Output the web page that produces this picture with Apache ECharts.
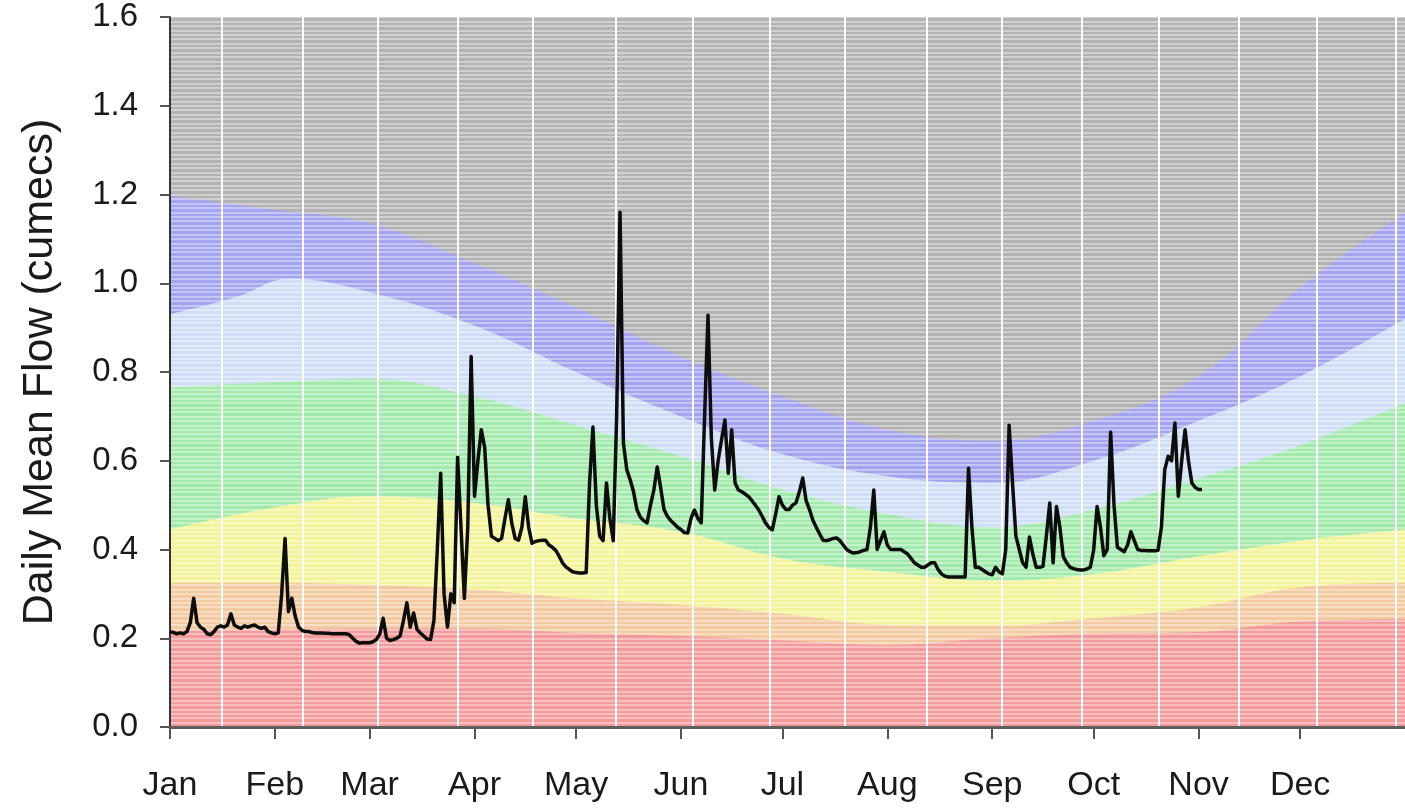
<!DOCTYPE html>
<html>
<head>
<meta charset="utf-8">
<script src="https://cdn.jsdelivr.net/npm/echarts@6/dist/echarts.min.js"></script>
<style>
html,body{margin:0;padding:0;background:#fff;}
#chart{width:1405px;height:811px;}
</style>
</head>
<body>
<div id="chart"></div>
<script>
// ---- Data ----
const monthStarts = [0, 31, 59, 90, 120, 151, 181, 212, 243, 273, 304, 334];
const monthLabels = ['Jan','Feb','Mar','Apr','May','Jun','Jul','Aug','Sep','Oct','Nov','Dec'];
const yTicks = [0, 0.2, 0.4, 0.6, 0.8, 1.0, 1.2, 1.4, 1.6];

// band boundary curves (upper edge of each band), by day of year
const bandDays = [0, 31, 59, 90, 120, 151, 181, 212, 243, 273, 304, 334, 365];
const blueTop   = [1.197, 1.165, 1.135, 1.045, 0.945, 0.835, 0.745, 0.67, 0.645, 0.69, 0.79, 0.99, 1.16];
const lightBlueDays = [0, 20, 35, 59, 90, 120, 151, 181, 212, 243, 273, 304, 334, 365];
const lightBlueTop  = [0.93, 0.97, 1.01, 0.98, 0.905, 0.80, 0.70, 0.615, 0.565, 0.55, 0.60, 0.69, 0.79, 0.92];
const greenTop  = [0.765, 0.777, 0.785, 0.745, 0.68, 0.61, 0.535, 0.48, 0.45, 0.49, 0.56, 0.635, 0.73];
const yellowTop = [0.445, 0.495, 0.52, 0.505, 0.47, 0.44, 0.38, 0.35, 0.33, 0.345, 0.385, 0.42, 0.445];
const orangeTop = [0.325, 0.325, 0.32, 0.31, 0.29, 0.275, 0.255, 0.23, 0.228, 0.245, 0.27, 0.315, 0.325];
const redTop    = [0.218, 0.22, 0.222, 0.222, 0.212, 0.205, 0.195, 0.185, 0.2, 0.21, 0.214, 0.238, 0.243];

// white vertical guide lines (day of year)
const guideDays = [15.4, 39.3, 61.5, 85.1, 107.3, 131.8, 154.6, 177.4, 199.5, 223.8, 245.9, 269.6, 292.1, 316, 338.8, 362.4];

// daily mean flow, day 0 = 1 Jan
const flow = [
0.215,0.213,0.21,0.212,0.21,0.215,0.235,0.29,0.235,0.225,
0.22,0.21,0.208,0.215,0.225,0.228,0.225,0.23,0.255,0.23,
0.225,0.222,0.228,0.225,0.228,0.23,0.225,0.222,0.225,0.215,
0.212,0.21,0.212,0.3,0.425,0.26,0.29,0.25,0.225,0.218,
0.215,0.215,0.213,0.212,0.212,0.212,0.211,0.211,0.21,0.21,
0.21,0.21,0.21,0.208,0.2,0.193,0.189,0.19,0.19,0.19,
0.192,0.197,0.21,0.245,0.2,0.195,0.197,0.2,0.205,0.24,
0.28,0.225,0.257,0.22,0.212,0.205,0.198,0.197,0.24,0.4,
0.572,0.3,0.225,0.3,0.28,0.608,0.45,0.29,0.45,0.835,
0.52,0.6,0.67,0.63,0.5,0.43,0.425,0.42,0.425,0.47,
0.512,0.46,0.425,0.421,0.45,0.519,0.45,0.414,0.418,0.42,
0.421,0.421,0.41,0.405,0.398,0.385,0.37,0.361,0.355,0.35,
0.348,0.347,0.347,0.348,0.55,0.676,0.5,0.43,0.42,0.55,
0.47,0.42,0.7,1.16,0.64,0.58,0.557,0.53,0.49,0.473,
0.465,0.46,0.5,0.534,0.586,0.54,0.49,0.475,0.465,0.458,
0.45,0.445,0.438,0.437,0.47,0.489,0.47,0.46,0.7,0.928,
0.65,0.534,0.6,0.647,0.692,0.572,0.67,0.55,0.534,0.53,
0.525,0.519,0.51,0.5,0.489,0.475,0.46,0.45,0.444,0.48,
0.519,0.5,0.49,0.49,0.5,0.505,0.53,0.561,0.51,0.49,
0.466,0.45,0.435,0.421,0.42,0.422,0.425,0.426,0.42,0.41,
0.4,0.395,0.392,0.393,0.395,0.398,0.4,0.45,0.534,0.4,
0.42,0.44,0.41,0.4,0.4,0.4,0.4,0.395,0.39,0.38,
0.37,0.365,0.36,0.36,0.365,0.37,0.37,0.355,0.345,0.34,
0.338,0.338,0.338,0.338,0.338,0.338,0.583,0.45,0.36,0.36,
0.355,0.35,0.345,0.343,0.36,0.35,0.345,0.4,0.68,0.55,
0.43,0.4,0.37,0.36,0.428,0.39,0.36,0.36,0.362,0.43,
0.505,0.37,0.497,0.45,0.384,0.37,0.36,0.357,0.355,0.354,
0.354,0.356,0.36,0.4,0.497,0.45,0.386,0.4,0.665,0.5,
0.405,0.4,0.395,0.41,0.44,0.42,0.4,0.398,0.398,0.397,
0.397,0.397,0.398,0.45,0.58,0.61,0.6,0.685,0.52,0.6,
0.67,0.6,0.55,0.54,0.535,0.535
];

// ---- Build ----
const FONT = '"Liberation Sans", Arial, sans-serif';
function band(name, days, tops, color, extra) {
  return Object.assign({
    name: name, type: 'line', xAxisIndex: 0, yAxisIndex: 0,
    data: days.map((d, i) => [d, tops[i]]),
    smooth: 0.4, symbol: 'none', silent: true,
    lineStyle: { width: 0 },
    areaStyle: { color: color, opacity: 1, origin: 'start' },
    z: 2
  }, extra || {});
}

const series = [
  band('blue', bandDays, blueTop, '#a3a3ef'),
  band('lightblue', lightBlueDays, lightBlueTop, '#cfdef4'),
  band('green', bandDays, greenTop, '#a2eaab'),
  band('yellow', bandDays, yellowTop, '#f3f39a'),
  band('orange', bandDays, orangeTop, '#f3c9a0'),
  band('red', bandDays, redTop, '#f39a9a', {
    markLine: {
      silent: true, symbol: 'none', z: 5,
      label: { show: false },
      lineStyle: { color: '#ffffff', width: 2, type: 'solid', opacity: 0.95 },
      data: guideDays.map(d => ({ xAxis: d }))
    }
  }),
  {
    name: 'flow', type: 'line', xAxisIndex: 0, yAxisIndex: 0,
    data: flow.map((v, i) => [i, v]),
    symbol: 'none', smooth: false,
    lineStyle: { color: '#0d0d0d', width: 3.5, join: 'round' },
    z: 10
  }
];

const chart = echarts.init(document.getElementById('chart'), null, { renderer: 'canvas' });
chart.setOption({
  animation: false,
  backgroundColor: '#ffffff',
  grid: {
    left: 170, right: 0, top: 17, bottom: 84, containLabel: false,
    show: true, backgroundColor: '#b3b3b3', borderWidth: 0
  },
  xAxis: [
    {
      type: 'value', min: 0, max: 365, position: 'bottom',
      axisLine: { show: true, lineStyle: { color: '#3a3a3a', width: 2 } },
      axisTick: { show: true, customValues: monthStarts, length: 12, inside: false,
                  lineStyle: { color: '#555', width: 2 } },
      axisLabel: { show: true, customValues: monthStarts, margin: 42,
                   fontFamily: FONT, fontSize: 34, color: '#1a1a1a',
                   formatter: v => monthLabels[monthStarts.indexOf(Math.round(v))] },
      splitLine: { show: false }
    },
    {
      type: 'value', min: 0, max: 365, position: 'top',
      axisLine: { show: true, lineStyle: { color: '#5e5e5e', width: 3 } },
      axisTick: { show: false }, axisLabel: { show: false }, splitLine: { show: false },
      z: 6
    }
  ],
  yAxis: [
    {
      type: 'value', min: 0, max: 1.6, interval: 0.2, position: 'left',
      name: 'Daily Mean Flow (cumecs)', nameLocation: 'middle', nameGap: 108,
      nameTextStyle: { fontFamily: FONT, fontSize: 43, color: '#1a1a1a' },
      axisLine: { show: true, lineStyle: { color: '#333', width: 2 } },
      axisTick: { show: true, length: 10, lineStyle: { color: '#555', width: 2 } },
      axisLabel: { show: true, margin: 32, fontFamily: FONT, fontSize: 33, color: '#1a1a1a',
                   customValues: yTicks, formatter: v => v.toFixed(1) },
      splitLine: { show: false },
      z: 6
    },
    {
      type: 'value', min: 0, max: 1.6, interval: 0.01, position: 'right',
      axisLine: { show: false }, axisTick: { show: false }, axisLabel: { show: false },
      splitLine: { show: true, lineStyle: { color: 'rgba(255,255,255,0.38)', width: 2 } },
      z: 3
    }
  ],
  series: series
});
</script>
</body>
</html>
